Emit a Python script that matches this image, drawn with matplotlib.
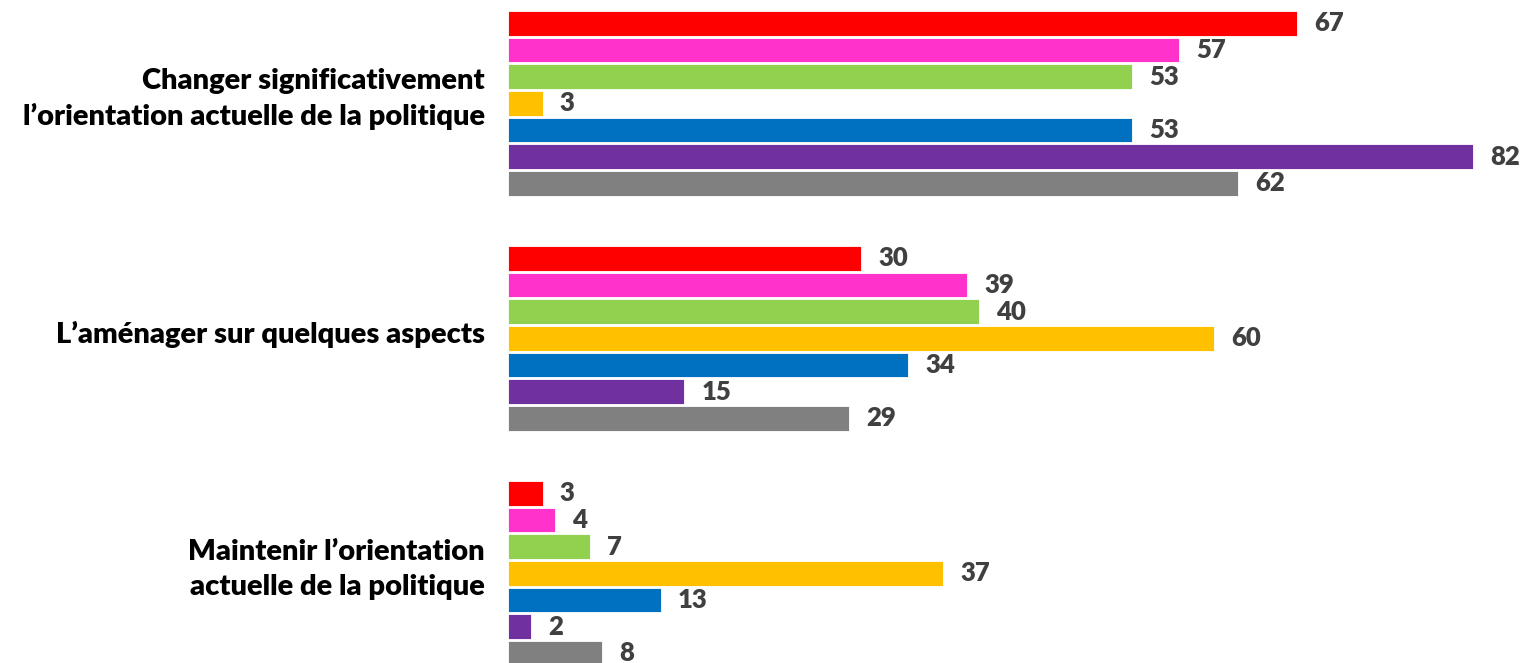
import matplotlib.pyplot as plt
import numpy as np

categories = ["Changer significativement\nl\u2019orientation actuelle de la politique",
              "L\u2019am\u00e9nager sur quelques aspects",
              "Maintenir l\u2019orientation\nactuelle de la politique"]
# one list per coloured series, values for each category
s_red = [67, 30, 3]
s_pink = [57, 39, 4]
s_green = [53, 40, 7]
s_yellow = [3, 60, 37]
s_blue = [53, 34, 13]
s_purple = [82, 15, 2]
s_gray = [62, 29, 8]
series = [s_red, s_pink, s_green, s_yellow, s_blue, s_purple, s_gray]
colors = ["#FF0000", "#FF33CC", "#92D050", "#FFC000", "#0070C0", "#7030A0", "#808080"]

plt.rcParams["font.family"] = ["Lato", "DejaVu Sans"]

W, H = 1523, 663
fig = plt.figure(figsize=(W / 100, H / 100), dpi=100)
x0 = 507.5
scale = 11.78  # px per unit
xmax = 86
ax = fig.add_axes([x0 / W, 0, xmax * scale / W, 1])
ax.set_xlim(0, xmax)
ax.set_ylim(H, 0)  # y in pixel units, top down
ax.axis("off")

group_pitch = 235
bar_pitch = 26.67
bar_h = 24.5
first = 11 + bar_h / 2

for i, (vals, c) in enumerate(zip(series, colors)):
    ys = [first + g * group_pitch + i * bar_pitch for g in range(len(categories))]
    ax.barh(ys, vals, height=bar_h, color=c, edgecolor="white", linewidth=0.6)
    for y, v in zip(ys, vals):
        ax.text(v + 1.45, y, str(v), ha="left", va="center", fontsize=18.5,
                fontweight="heavy", color="#404040", clip_on=False)

for g, cat in enumerate(categories):
    yc = first + g * group_pitch + 3 * bar_pitch - 4
    fig.text(485 / W, 1 - yc / H, cat, ha="right", va="center", fontsize=21,
             fontweight="heavy", color="black", linespacing=1.42, multialignment="right")

fig.savefig("out.png", dpi=100)
